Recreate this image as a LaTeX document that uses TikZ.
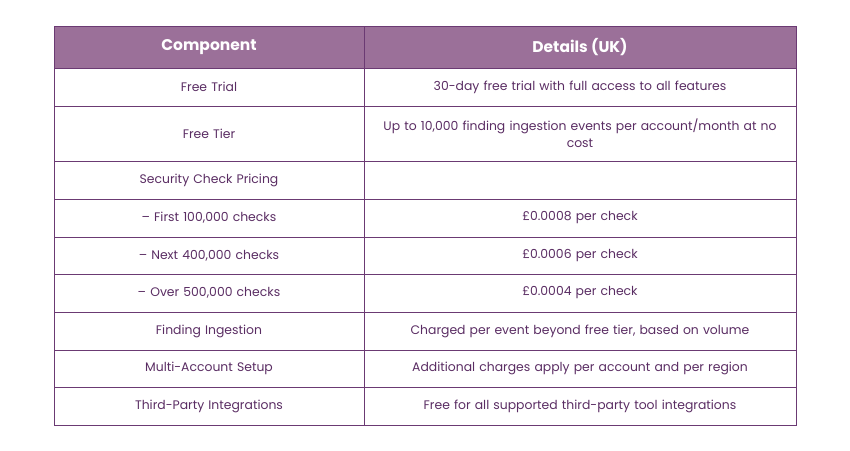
\documentclass[tikz,border=0pt]{standalone}
\usepackage{fontspec}
\setmainfont{Poppins}
\usepackage{xcolor}
\definecolor{headfill}{HTML}{9B7099}
\definecolor{gridline}{HTML}{6B3A73}
\definecolor{bodytext}{HTML}{5A2D63}

\begin{document}
\begin{tikzpicture}[x=1pt,y=-1pt,%
		   headcell/.style={fill=headfill,draw=gridline,line width=0.8pt},
		   bodycell/.style={draw=gridline,line width=0.8pt},
		   headtext/.style={text=white,font=\fontsize{15.5}{18}\selectfont\bfseries},
		   celltext/.style={text=bodytext,font=\fontsize{12.4}{17}\selectfont,align=center,text width=420pt}]
	\useasboundingbox (0,0) rectangle (850,450);

	% header
	\draw[headcell] (54,26) rectangle (364,68);
	\draw[headcell] (364,26) rectangle (796,68);
	\node[headtext] (h-1) at (209,47) {Component};
	\node[headtext] (h-2) at (580,47) {Details (UK)};

	\foreach \top/\bot/\comp/\desc [count=\y] in {%
		68/106/Free Trial/30-day free trial with full access to all features,%
		106/161/Free Tier/{Up to 10,000 finding ingestion events per account/month at no\\cost},%
		161/199/Security Check Pricing/{},%
		199/237/{– First 100,000 checks}/£0.0008 per check,%
		237/274/{– Next 400,000 checks}/£0.0006 per check,%
		274/312/{– Over 500,000 checks}/£0.0004 per check,%
		312/350/Finding Ingestion/{Charged per event beyond free tier, based on volume},%
		350/387/Multi-Account Setup/Additional charges apply per account and per region,%
		387/425/Third-Party Integrations/Free for all supported third-party tool integrations%
	   } { \draw[bodycell] (54,\top) rectangle (364,\bot);
	       \draw[bodycell] (364,\top) rectangle (796,\bot);
	       \node[celltext] (c-\y) at (209,{(\top+\bot)/2}) {\comp};
	       \node[celltext] (d-\y) at (580,{(\top+\bot)/2}) {\desc};
	   }
\end{tikzpicture}
\end{document}
